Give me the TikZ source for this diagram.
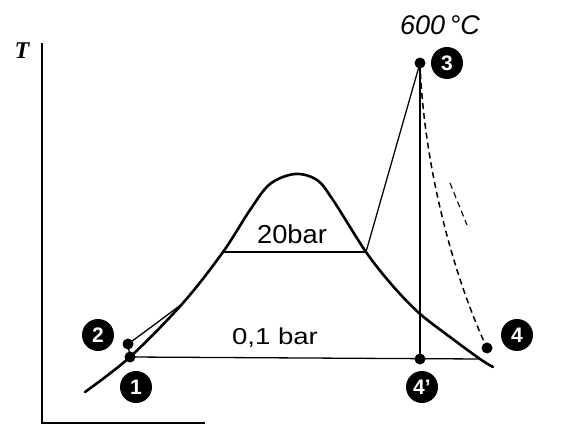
\documentclass[tikz,border=0pt]{standalone}
\usepackage{fontspec}
\setmainfont{Liberation Sans}
\newfontfamily\serifT{Liberation Serif}
\begin{document}
\begin{tikzpicture}[x=1pt,y=-1pt,
  dome/.style={line width=2.6pt, line cap=round, line join=round},
  axisline/.style={line width=1.4pt},
  proc/.style={line width=1.3pt},
  dashproc/.style={line width=1.5pt, dash pattern=on 6pt off 4pt},
  dot/.style={circle, fill=black, inner sep=0pt, minimum size=11pt},
  lbl/.style={circle, fill=black, text=white, inner sep=0pt, minimum size=32pt,
              font=\bfseries\fontsize{21}{21}\selectfont},
  hand/.style={inner sep=0pt}
]
\useasboundingbox (0,0) rectangle (582,425);

% coordinates
\coordinate (c1) at (130,357);
\coordinate (c2) at (128,344);
\coordinate (c3) at (420,63);
\coordinate (c4) at (487,348);
\coordinate (c4p) at (420,359);
\coordinate (a20) at (223,252);
\coordinate (b20) at (366,252);
\coordinate (d01) at (480,359);
\coordinate (m2) at (182,304);
\coordinate (ytop) at (42,43);
\coordinate (orig) at (42,423);
\coordinate (xend) at (205,423);
\coordinate (s1) at (450,183);
\coordinate (s2) at (467,225);

% axes
\draw[axisline] (ytop) -- (orig) -- (xend);

% dome
\draw[dome] plot[smooth, tension=0.55] coordinates {
  (85,392) (130,357) (183,303) (223,252) (250,210) (270,184) (295,174)
  (317,180) (333,200) (366,252) (392,285) (419,313) (450,337) (480,359) (493,367)};

% process lines
\draw[proc] (c1) -- (c2);
\draw[proc] (c2) .. controls (150,328) .. (m2);
\draw[proc] (c1) -- (d01);
\draw[proc] (a20) -- (b20);
\draw[proc] (b20) -- (c3);
\draw[proc] (c3) -- (c4p);
\draw[dashproc] (c3) .. controls (424,170) and (455,280) .. (c4);
\draw[dashproc, line width=1.1pt] (s1) -- (s2);

% state dots
\node[dot] (p1) at (c1) {};
\node[dot] (p2) at (c2) {};
\node[dot] (p3) at (c3) {};
\node[dot] (p4) at (c4) {};
\node[dot] (p4p) at (c4p) {};

% labels
\node[lbl] (l1) at (136,387) {1};
\node[lbl] (l2) at (98,335) {2};
\node[lbl] (l3) at (447,63) {3};
\node[lbl] (l4) at (517,335) {4};
\node[lbl] (l4p) at (422,387) {4'};

% texts
\node[hand, font=\itshape\fontsize{27}{27}\selectfont] (t600) at (440,25) {600\,°C};
\node[hand, xscale=1.05, font=\fontsize{26}{26}\selectfont] (t20) at (292,234) {20bar};
\node[hand, xscale=1.2, font=\fontsize{23}{23}\selectfont] (t01) at (275,338) {0,1 bar};
\node[inner sep=0pt] (tT) at (22,51) {\fontsize{24}{24}\selectfont\serifT\bfseries\itshape T};
\end{tikzpicture}
\end{document}
